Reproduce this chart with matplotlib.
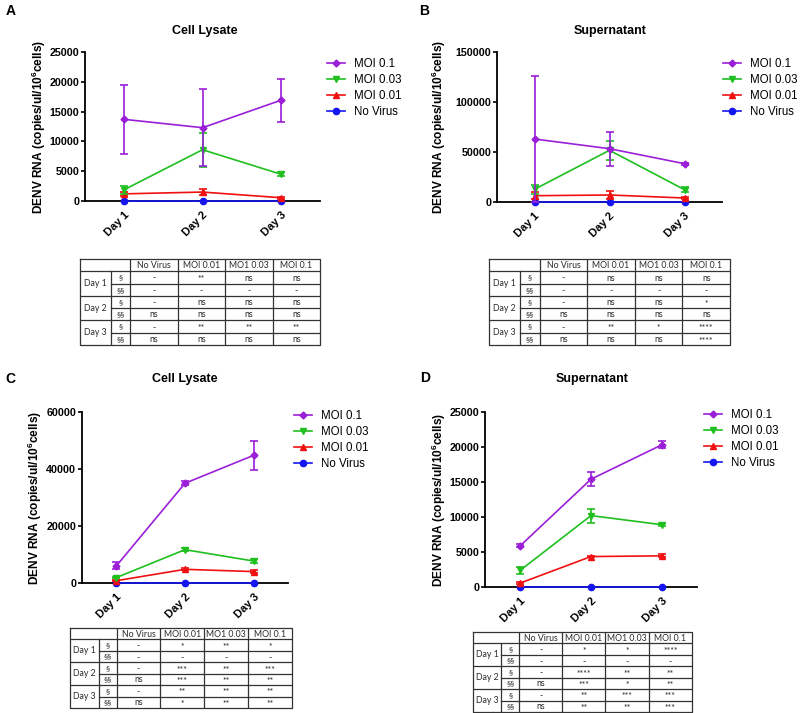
import numpy as np
import matplotlib
matplotlib.use("Agg")
import matplotlib.pyplot as plt
from matplotlib.lines import Line2D

plt.rcParams["font.family"] = ["Liberation Sans", "DejaVu Sans"]
plt.rcParams["mathtext.fontset"] = "custom"
plt.rcParams["mathtext.bf"] = "Liberation Sans:bold"

# ---- data ----
days = ["Day 1", "Day 2", "Day 3"]
series = ["MOI 0.1", "MOI 0.03", "MOI 0.01", "No Virus"]

# panel A - cell lysate
A_moi01 = [13700, 12300, 16900]
A_moi01_err = [5800, 6500, 3600]
A_moi003 = [1900, 8600, 4500]
A_moi003_err = [700, 2850, 300]
A_moi001 = [1200, 1500, 550]
A_moi001_err = [300, 500, 200]
A_novirus = [0, 0, 0]

# panel B - supernatant
B_moi01 = [63000, 53300, 38300]
B_moi01_err = [63000, 17000, 1000]
B_moi003 = [12700, 51700, 12300]
B_moi003_err = [4600, 9200, 2500]
B_moi001 = [6300, 7000, 4000]
B_moi001_err = [3700, 4300, 1000]
B_novirus = [0, 0, 0]

# panel C - cell lysate
C_moi01 = [6000, 35000, 44800]
C_moi01_err = [1200, 700, 5000]
C_moi003 = [1900, 11700, 7700]
C_moi003_err = [300, 500, 600]
C_moi001 = [800, 4800, 4000]
C_moi001_err = [200, 300, 600]
C_novirus = [0, 0, 0]

# panel D - supernatant
D_moi01 = [5900, 15400, 20300]
D_moi01_err = [200, 1000, 500]
D_moi003 = [2400, 10200, 8900]
D_moi003_err = [500, 1000, 200]
D_moi001 = [570, 4350, 4450]
D_moi001_err = [100, 100, 200]
D_novirus = [0, 0, 0]

yticks_A = [0, 5000, 10000, 15000, 20000, 25000]
yticks_B = [0, 50000, 100000, 150000]
yticks_C = [0, 20000, 40000, 60000]
yticks_D = [0, 5000, 10000, 15000, 20000, 25000]

# significance tables
tab_header = ["No Virus", "MOI 0.01", "MO1 0.03", "MOI 0.1"]
tab_days = ["Day 1", "Day 2", "Day 3"]
tab_marks = ["\u00a7", "\u00a7\u00a7"]
tab_A = [["-", "**", "ns", "ns"],
         ["-", "-", "-", "-"],
         ["-", "ns", "ns", "ns"],
         ["ns", "ns", "ns", "ns"],
         ["-", "**", "**", "**"],
         ["ns", "ns", "ns", "ns"]]
tab_B = [["-", "ns", "ns", "ns"],
         ["-", "-", "-", "-"],
         ["-", "ns", "ns", "*"],
         ["ns", "ns", "ns", "ns"],
         ["-", "**", "*", "****"],
         ["ns", "ns", "ns", "****"]]
tab_C = [["-", "*", "**", "*"],
         ["-", "-", "-", "-"],
         ["-", "***", "**", "***"],
         ["ns", "***", "**", "**"],
         ["-", "**", "**", "**"],
         ["ns", "*", "**", "**"]]
tab_D = [["-", "*", "*", "****"],
         ["-", "-", "-", "-"],
         ["-", "****", "**", "**"],
         ["ns", "***", "*", "**"],
         ["-", "**", "***", "***"],
         ["ns", "**", "**", "***"]]

colors = ["#9b1fd8", "#1fbf1f", "#f01010", "#1515f0"]
markers = ["D", "v", "^", "o"]
msizes = [3.5, 4.5, 4.5, 4.5]

W, H = 800, 713
fig = plt.figure(figsize=(8, 7.13), dpi=100)


def px_axes(x0, y0, x1, y1):
    return fig.add_axes([x0 / W, 1 - y1 / H, (x1 - x0) / W, (y1 - y0) / H])


def line_panel(box, vals, errs, yticks, title, title_xy, letter, letter_xy,
               legend_xy, ylab_x):
    ax = px_axes(*box)
    x = np.arange(1, 4)
    handles = []
    for i in range(4):
        ax.errorbar(x, vals[i], yerr=errs[i], color=colors[i], marker=markers[i],
                    markersize=msizes[i], lw=1.2, elinewidth=1.2, capsize=3,
                    capthick=1.2, clip_on=False, zorder=3 + (3 - i))
        handles.append(Line2D([], [], color=colors[i], marker=markers[i],
                              markersize=msizes[i], lw=1.2, label=series[i]))
    ax.set_xlim(0.5, 3.5)
    ax.set_ylim(0, yticks[-1])
    ax.set_yticks(yticks)
    ax.set_xticks(x)
    ax.set_xticklabels(days, rotation=45, ha="right", rotation_mode="anchor",
                       fontsize=8, fontweight="bold")
    for t in ax.get_yticklabels():
        t.set_fontsize(7.7)
        t.set_fontweight("bold")
    ax.spines["top"].set_visible(False)
    ax.spines["right"].set_visible(False)
    ax.spines["left"].set_linewidth(1.3)
    ax.spines["bottom"].set_linewidth(1.3)
    ax.tick_params(axis="y", length=3, width=1.2, pad=1.2)
    ax.tick_params(axis="x", length=3, width=1.2, pad=3)
    ax.set_ylabel(r"DENV RNA (copies/ul/10$^\mathbf{6}$cells)", fontsize=8.6,
                  fontweight="bold")
    ax.yaxis.set_label_coords(ylab_x / (box[2] - box[0]), 0.5)
    fig.text(title_xy[0] / W, 1 - title_xy[1] / H, title, ha="center",
             va="center", fontsize=9, fontweight="bold")
    fig.text(letter_xy[0] / W, 1 - letter_xy[1] / H, letter, ha="center",
             va="center", fontsize=10, fontweight="bold")
    ax.legend(handles=handles, loc="upper left",
              bbox_to_anchor=(legend_xy[0] / W, 1 - legend_xy[1] / H),
              bbox_transform=fig.transFigure, frameon=False, fontsize=8.3,
              handlelength=1.6, handletextpad=0.7, labelspacing=0.35,
              borderpad=0, borderaxespad=0)
    return ax


def table_panel(box, cells, fs=6.3):
    ax = px_axes(*box)
    ax.set_xlim(0, 1)
    ax.set_ylim(7, 0)
    ax.axis("off")
    fr = [0.13, 0.08, 0.1975, 0.1975, 0.1975, 0.1975]
    edges = np.concatenate([[0], np.cumsum(fr)])
    edges[-1] = 1
    lc = "#333333"
    lw = 0.9
    # outer frame
    ax.plot([0, 1, 1, 0, 0], [0, 0, 7, 7, 0], color=lc, lw=lw, clip_on=False)
    # vertical lines
    for k, xe in enumerate(edges[1:-1], start=1):
        y_start = 1 if k == 1 else 0
        ax.plot([xe, xe], [y_start, 7], color=lc, lw=lw)
    # horizontal lines
    for r in [1, 3, 5]:
        ax.plot([0, 1], [r, r], color=lc, lw=lw)
    for r in [2, 4, 6]:
        ax.plot([edges[1], 1], [r, r], color=lc, lw=lw)
    tc = "#2a2a2a"
    for j, h in enumerate(tab_header):
        ax.text((edges[j + 2] + edges[j + 3]) / 2, 0.55, h, ha="center",
                va="center", fontsize=fs, color=tc, family="Lato")
    for d in range(3):
        ax.text((edges[0] + edges[1]) / 2, 2 + 2 * d, tab_days[d], ha="center",
                va="center", fontsize=fs, color=tc, family="Lato")
        for s in range(2):
            r = 1 + 2 * d + s
            ax.text((edges[1] + edges[2]) / 2, r + 0.55, tab_marks[s],
                    ha="center", va="center", fontsize=fs - 0.3, color=tc,
                    family="Lato")
            for j in range(4):
                txt = cells[2 * d + s][j]
                dy = 0.68 if "*" in txt else 0.55
                ax.text((edges[j + 2] + edges[j + 3]) / 2, r + dy, txt,
                        ha="center", va="center", fontsize=fs, color=tc,
                        family="Lato")
    return ax


line_panel((85, 52, 320, 201),
           [A_moi01, A_moi003, A_moi001, A_novirus],
           [A_moi01_err, A_moi003_err, A_moi001_err, None],
           yticks_A, "Cell Lysate", (205, 31), "A", (10.5, 11), (327, 58), -37)
line_panel((497, 52, 722, 202),
           [B_moi01, B_moi003, B_moi001, B_novirus],
           [B_moi01_err, B_moi003_err, B_moi001_err, None],
           yticks_B, "Supernatant", (610, 31), "B", (424, 11), (723, 58), -49)
line_panel((82, 412, 288, 583),
           [C_moi01, C_moi003, C_moi001, C_novirus],
           [C_moi01_err, C_moi003_err, C_moi001_err, None],
           yticks_C, "Cell Lysate", (185, 379), "C", (10.5, 378.5), (294, 410), -38)
line_panel((485, 412, 697, 587),
           [D_moi01, D_moi003, D_moi001, D_novirus],
           [D_moi01_err, D_moi003_err, D_moi001_err, None],
           yticks_D, "Supernatant", (592, 379), "D", (425, 378), (704, 409), -37)

table_panel((80, 259, 320, 345), tab_A)
table_panel((489, 259, 730, 345), tab_B)
table_panel((70, 628, 292, 708), tab_C)
table_panel((473, 632, 692, 712), tab_D)

fig.savefig("out.png", dpi=100, facecolor="white")
